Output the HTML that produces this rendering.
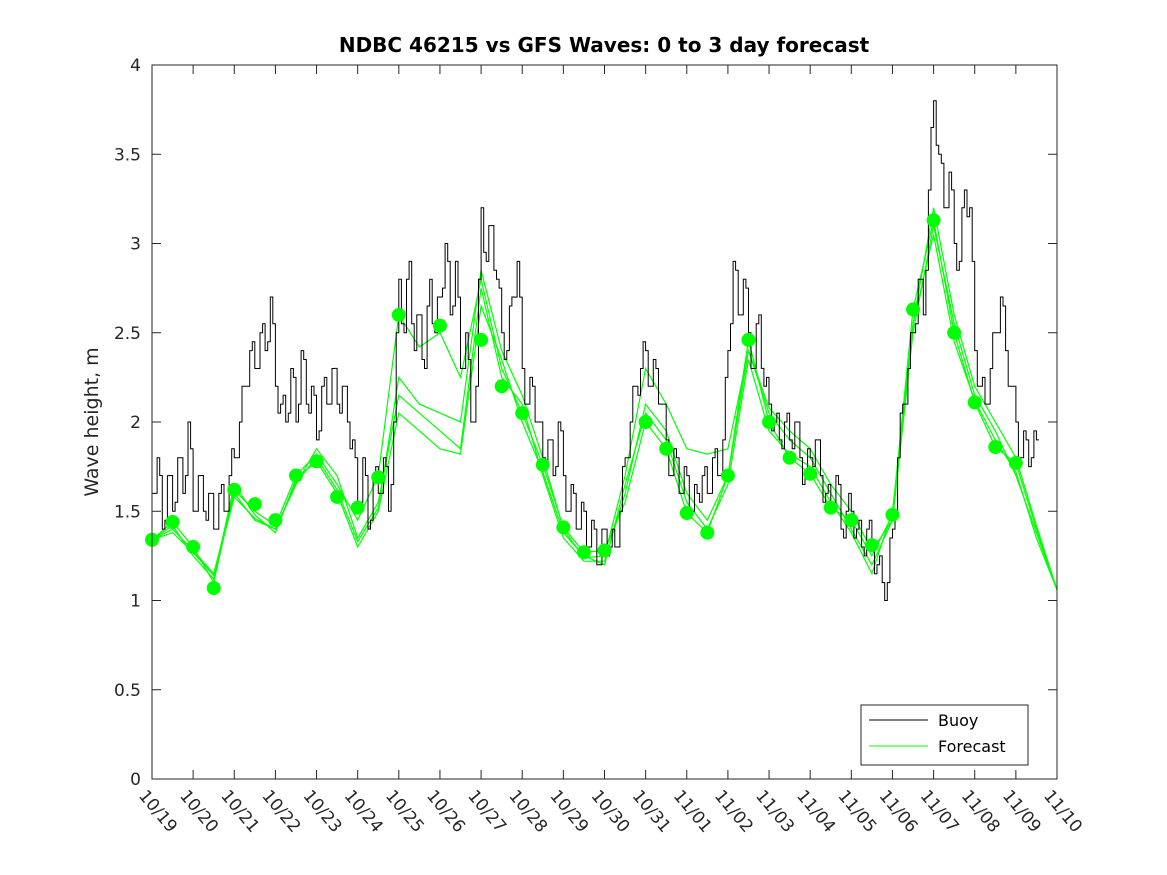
<!DOCTYPE html>
<html><head><meta charset="utf-8"><style>
body{margin:0;background:#fff}
svg{display:block;font-family:"DejaVu Sans","Liberation Sans",sans-serif}
</style></head><body>
<svg id="chart" width="1167" height="875">
<rect x="0" y="0" width="1167" height="875" fill="#fff"/>
<text x="604" y="52" text-anchor="middle" font-size="20" font-weight="bold" fill="#000">NDBC 46215 vs GFS Waves: 0 to 3 day forecast</text>
<text transform="translate(98,422) rotate(-90)" text-anchor="middle" font-size="19" fill="#262626">Wave height, m</text>
<g id="axes"></g>
<g id="series"></g>
<rect x="152" y="65" width="905" height="714" fill="none" stroke="#262626" stroke-width="1"/>
<g>
<rect x="861" y="705" width="167" height="60" fill="#fff" stroke="#262626"/>
<line x1="869" y1="720" x2="928" y2="720" stroke="#000"/>
<text x="938" y="726" font-size="16" fill="#000">Buoy</text>
<line x1="869" y1="746" x2="928" y2="746" stroke="#00ff00"/>
<text x="938" y="752" font-size="16" fill="#000">Forecast</text>
</g>
</svg>
<script>
const xTickLabels=["10/19","10/20","10/21","10/22","10/23","10/24","10/25","10/26","10/27","10/28","10/29","10/30","10/31","11/01","11/02","11/03","11/04","11/05","11/06","11/07","11/08","11/09","11/10"];
const yTicks=[0,0.5,1,1.5,2,2.5,3,3.5,4];
const yTickLabels=["0","0.5","1","1.5","2","2.5","3","3.5","4"];
const buoy=[1.6,1.8,1.4,1.7,1.5,1.8,1.6,2.0,
1.5,1.7,1.5,1.6,1.4,1.6,1.5,1.7,
1.8,2.0,2.2,2.4,2.3,2.5,2.4,2.7,
2.2,2.1,2.0,2.3,2.0,2.4,2.1,2.2,
1.9,2.2,2.1,2.3,2.1,2.2,2.0,1.9,
1.5,1.8,1.4,1.7,1.6,1.8,1.5,2.0,
2.8,2.5,2.9,2.4,2.6,2.3,2.8,2.5,
2.7,3.0,2.6,2.9,2.3,2.5,2.0,2.2,
3.2,2.9,3.1,2.8,2.5,2.4,2.7,2.9,
2.3,2.1,2.2,2.0,1.8,1.9,1.7,2.0,
1.7,1.5,1.6,1.4,1.5,1.3,1.4,1.2,
1.4,1.3,1.3,1.5,1.8,2.0,2.2,2.3,
2.4,2.2,2.3,2.1,1.9,1.7,1.8,1.6,
1.7,1.5,1.6,1.7,1.6,1.8,1.7,1.9,
2.4,2.9,2.6,2.8,2.5,2.3,2.6,2.2,
2.1,2.0,1.9,2.0,1.9,2.0,1.8,1.7,
1.8,1.9,1.7,1.6,1.5,1.7,1.4,1.5,
1.5,1.4,1.3,1.4,1.3,1.2,1.1,1.1,
1.4,1.8,2.1,2.3,2.5,2.8,2.6,3.3,
3.8,3.5,3.2,3.4,3.0,2.9,3.3,3.2,
2.4,2.2,2.1,2.3,2.5,2.7,2.4,2.2,
2.0,1.8,1.9,1.8,1.9];
const runA=[1.34,1.44,1.30,1.10,1.62,1.50,1.42,1.70,1.82,1.65,1.45,1.70,2.60,2.42,2.50,2.25,2.80,2.30,2.05,1.76,1.41,1.27,1.28,1.55,2.00,1.85,1.49,1.38,1.70,2.46,2.00,1.80,1.71,1.52,1.45,1.25,1.48,2.63,3.13,2.50,2.11,1.86,1.77,1.40,1.06];
const runB=[1.34,1.40,1.28,1.15,1.60,1.45,1.40,1.65,1.85,1.70,1.35,1.55,2.15,2.05,1.95,1.85,2.75,2.25,2.10,1.70,1.35,1.22,1.22,1.60,2.10,1.95,1.60,1.45,1.70,2.40,2.05,1.90,1.80,1.60,1.40,1.20,1.45,2.50,3.10,2.55,2.15,1.95,1.70,1.38,1.06];
const runC=[1.34,1.42,1.25,1.12,1.65,1.48,1.38,1.68,1.78,1.60,1.30,1.50,2.05,1.95,1.85,1.82,2.65,2.35,2.00,1.72,1.38,1.25,1.20,1.65,2.05,1.90,1.55,1.40,1.65,2.35,1.95,1.82,1.75,1.55,1.38,1.15,1.50,2.55,3.05,2.45,2.12,1.90,1.72,1.35,1.06];
const runD=[1.34,1.38,1.27,1.14,1.58,1.46,1.40,1.66,1.80,1.62,1.33,1.52,2.25,2.10,2.05,2.00,2.85,2.40,2.15,1.80,1.40,1.24,1.25,1.70,2.30,2.10,1.85,1.82,1.85,2.40,2.08,1.95,1.85,1.65,1.50,1.28,1.45,2.55,3.20,2.60,2.20,2.00,1.80,1.42,1.06];
const dotDays=[0,0.5,1,1.5,2,2.5,3,3.5,4,4.5,5,5.5,6,7,8,8.5,9,9.5,10,10.5,11,12,12.5,13,13.5,14,14.5,15,15.5,16,16.5,17,17.5,18,18.5,19,19.5,20,20.5,21];
const dotVals=[1.34,1.44,1.30,1.07,1.62,1.54,1.45,1.70,1.78,1.58,1.52,1.69,2.60,2.54,2.46,2.20,2.05,1.76,1.41,1.27,1.28,2.00,1.85,1.49,1.38,1.70,2.46,2.00,1.80,1.71,1.52,1.45,1.31,1.48,2.63,3.13,2.50,2.11,1.86,1.77];
const X=d=>152+d*(905/22);
const Y=v=>779-v*714/4;
const NS="http://www.w3.org/2000/svg";
const axes=document.getElementById('axes'),series=document.getElementById('series');
function mk(tag,attrs,parent){const e=document.createElementNS(NS,tag);for(const k in attrs)e.setAttribute(k,attrs[k]);parent.appendChild(e);return e;}
xTickLabels.forEach((lab,i)=>{
 const x=X(i);
 const t1=mk('line',{x1:x,y1:779,x2:x,y2:770,stroke:'#262626'},axes);
 
 
 const t2=mk('line',{x1:x,y1:65,x2:x,y2:74,stroke:'#262626'},axes);
 
 
 const tx=mk('text',{transform:`translate(${x-14},${796}) rotate(50)`,'font-size':'17',fill:'#262626'},axes);
 tx.textContent=lab;
 
 
});
yTicks.forEach((v,i)=>{
 const y=Y(v);
 const t1=mk('line',{x1:152,y1:y,x2:161,y2:y,stroke:'#262626'},axes);
 
 
 const t2=mk('line',{x1:1057,y1:y,x2:1048,y2:y,stroke:'#262626'},axes);
 
 
 const tx=mk('text',{x:141,y:y+6,'text-anchor':'end','font-size':'17',fill:'#262626'},axes);
 tx.textContent=yTickLabels[i];
 
 
});
function pathFrom(vals,step){let d='';vals.forEach((v,i)=>{if(v==null)return;d+=(d?'L':'M')+X(i*step).toFixed(1)+','+Y(v).toFixed(1);});return d;}
function stepPath(vals,step){let d='';vals.forEach((v,i)=>{const x0=X(i*step),x1=X((i+0.5)*step),x2=X((i+1)*step);const y=Y(v).toFixed(1);
 d+=(d?'L':'M')+x0.toFixed(1)+','+y+'L'+x1.toFixed(1)+','+y;
 if(i<vals.length-1){const m=(v+vals[i+1])/2+((i%2)?0.1:-0.1);d+='L'+x1.toFixed(1)+','+Y(m).toFixed(1)+'L'+x2.toFixed(1)+','+Y(m).toFixed(1);}
});return d;}
[runA,runB,runC,runD].forEach((r,i)=>{
 const p=mk('path',{d:pathFrom(r,0.5),fill:'none',stroke:'#00ff00','stroke-width':'1.2'},series);
 
 
});
const bp=mk('path',{d:stepPath(buoy,0.125),fill:'none',stroke:'#000','stroke-width':'1'},series);


dotDays.forEach((d,i)=>{
 const c=mk('circle',{cx:X(d),cy:Y(dotVals[i]),r:7,fill:'#00ff00'},series);
 
 
});
</script>
</body></html>
